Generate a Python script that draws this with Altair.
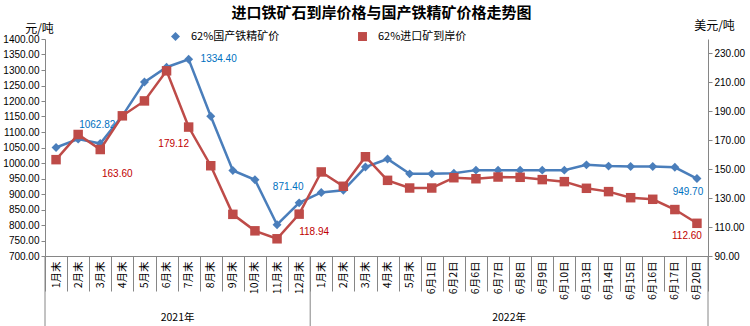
import altair as alt
import pandas as pd
import json

# ---------------- data ----------------
cats_2021 = ["1月末", "2月末", "3月末", "4月末", "5月末", "6月末", "7月末", "8月末",
             "9月末", "10月末", "11月末", "12月末"]
cats_2022 = ["1月末", "2月末", "3月末", "4月末", "5月末", "6月1日", "6月2日", "6月6日",
             "6月7日", "6月8日", "6月9日", "6月10日", "6月13日", "6月14日", "6月15日",
             "6月16日", "6月17日", "6月20日"]
years = ["2021年", "2022年"]

domestic = [1050, 1077, 1062.82, 1152, 1261, 1309, 1334.40, 1151, 976, 946, 801, 871.40,
            905, 912, 987, 1013, 965, 965, 967, 977, 977, 977, 977, 977, 994, 990, 989,
            989, 986, 949.70]
imported = [156.6, 174.0, 163.60, 186.9, 197.2, 218.0, 179.12, 152.4, 118.8, 107.4, 101.9,
            118.94, 148.1, 138.2, 158.6, 142.3, 137.0, 137.0, 144.1, 143.4, 144.6, 144.4,
            142.8, 141.4, 136.8, 134.5, 130.3, 129.2, 122.1, 112.60]

NAME_DOM = "62%国产铁精矿价"
NAME_IMP = "62%进口矿到岸价"
TITLE = "进口铁矿石到岸价格与国产铁精矿价格走势图"

left_ticks = [700 + 50 * i for i in range(15)]
right_ticks = [90 + 20 * i for i in range(8)]

cats = cats_2021 + cats_2022
idx = list(range(len(cats)))

dom_df = pd.DataFrame({"idx": idx, "series": NAME_DOM, "value": domestic})
imp_df = pd.DataFrame({"idx": idx, "series": NAME_IMP, "value": imported})

# ---------------- style ----------------
BLUE = "#4a7ebb"
RED = "#be4b48"
BLUE_TXT = "#0070c0"
RED_TXT = "#c00000"
GRAY = "#868686"
CJK = "Noto Sans CJK SC"
NUM = "Liberation Sans"
W, H = 663, 217

series_domain = [NAME_DOM, NAME_IMP]
color_scale = alt.Scale(domain=series_domain, range=[BLUE, RED])
shape_scale = alt.Scale(domain=series_domain, range=["diamond", "square"])
x_scale = alt.Scale(type="band", domain=idx, paddingInner=0, paddingOuter=0)

legend = alt.Legend(
    orient="none", legendX=125, legendY=-8, direction="horizontal", title=None,
    labelFont=CJK, labelFontSize=11, labelColor="#000000", symbolSize=80,
    columnPadding=75, labelOffset=10, symbolOpacity=1,
)

cat_array = json.dumps(cats, ensure_ascii=False)
x_axis = alt.Axis(
    title=None, labelAngle=-90,
    labelExpr=cat_array + "[datum.value]",
    labelFont=CJK, labelFontSize=10.5, labelColor="#000000", labelPadding=-30,
    tickBand="extent", tickSize=35, tickColor=GRAY, domainColor=GRAY,
    labelOverlap=False, grid=False,
)
x_enc = alt.X("idx:O", scale=x_scale, axis=x_axis)

left_axis = alt.Axis(
    values=left_ticks, format=".2f", tickSize=4, tickColor=GRAY, domainColor=GRAY,
    labelFont=NUM, labelFontSize=10, labelColor="#000000", labelPadding=2, grid=False,
    labelOverlap=False,
    title="元/吨", titleAngle=0, titleX=-6, titleY=-11, titleAlign="center",
    titleBaseline="middle", titleFont=CJK, titleFontSize=12, titleFontWeight="normal",
    titleColor="#000000",
)
right_axis = alt.Axis(
    orient="right", values=right_ticks, format=".2f", tickSize=4, tickColor=GRAY,
    domainColor=GRAY, labelFont=NUM, labelFontSize=10, labelColor="#000000",
    labelPadding=2, grid=False, labelOverlap=False,
    title="美元/吨", titleAngle=0, titleX=6, titleY=-14, titleAlign="center",
    titleBaseline="middle", titleFont=CJK, titleFontSize=12, titleFontWeight="normal",
    titleColor="#000000",
)

left_scale = alt.Scale(domain=[700, 1400], nice=False, zero=False)
right_scale = alt.Scale(domain=[90, 240], nice=False, zero=False)
y_left = alt.Y("value:Q", scale=left_scale, axis=left_axis)
y_right = alt.Y("value:Q", scale=right_scale, axis=right_axis)

color_enc = alt.Color("series:N", scale=color_scale, legend=legend)
shape_enc = alt.Shape("series:N", scale=shape_scale, legend=legend)


def labels(df, i, y, color, dx, dy):
    return alt.Chart(df).transform_filter(alt.datum.idx == i).mark_text(
        font=NUM, fontSize=10, color=color, dx=dx, dy=dy, align="center",
        baseline="middle",
    ).encode(x=x_enc, y=y, text=alt.Text("value:Q", format=".2f"))


sep_start = alt.Chart(pd.DataFrame({"idx": [0]})).mark_rule(color=GRAY, strokeWidth=1).encode(
    x=alt.X("idx:O", scale=x_scale, bandPosition=0),
    y=alt.value(H), y2=alt.value(H + 70))
sep_end = alt.Chart(pd.DataFrame({"idx": [11, 29]})).mark_rule(color=GRAY, strokeWidth=1).encode(
    x=alt.X("idx:O", scale=x_scale, bandPosition=1),
    y=alt.value(H), y2=alt.value(H + 70))
year_txt = alt.Chart(pd.DataFrame({"idx": [5, 20], "year": years})).mark_text(
    font=CJK, fontSize=10.5, color="#000000", baseline="middle", align="center").encode(
    x=alt.X("idx:O", scale=x_scale, bandPosition=1),
    y=alt.value(H + 62), text="year:N")

dom_line = alt.Chart(dom_df).mark_line(strokeWidth=2.5, color=BLUE).encode(x=x_enc, y=y_left)
dom_pts = alt.Chart(dom_df).mark_point(filled=True, size=80, opacity=1).encode(
    x=x_enc, y=y_left, color=color_enc, shape=shape_enc)
dom_layer = alt.layer(
    dom_line, dom_pts,
    labels(dom_df, 2, y_left, BLUE_TXT, -3, -19),
    labels(dom_df, 6, y_left, BLUE_TXT, 30, 0),
    labels(dom_df, 11, y_left, BLUE_TXT, -11, -16),
    labels(dom_df, 29, y_left, BLUE_TXT, -9, 13),
    sep_start, sep_end, year_txt,
)

imp_line = alt.Chart(imp_df).mark_line(strokeWidth=2.5, color=RED).encode(x=x_enc, y=y_right)
imp_pts = alt.Chart(imp_df).mark_point(filled=True, size=90, opacity=1).encode(
    x=x_enc, y=y_right, color=color_enc, shape=shape_enc)
imp_layer = alt.layer(
    imp_line, imp_pts,
    labels(imp_df, 2, y_right, RED_TXT, 17, 24),
    labels(imp_df, 6, y_right, RED_TXT, -15, 17),
    labels(imp_df, 11, y_right, RED_TXT, 15, 18),
    labels(imp_df, 29, y_right, RED_TXT, -10, 13),
)

chart = alt.layer(dom_layer, imp_layer).resolve_scale(
    y="independent"
).properties(
    width=W, height=H,
    title=alt.TitleParams(TITLE, font=CJK, fontSize=15, fontWeight="bold", color="#000000",
                          anchor="middle", offset=2, dx=5, dy=4),
    autosize=alt.AutoSizeParams(type="none"),
    padding={"left": 45, "top": 39, "right": 42, "bottom": 70},
    background="#ffffff",
).configure_view(stroke=None)

chart.save("out.html", embed_options={"renderer": "svg", "actions": False})
